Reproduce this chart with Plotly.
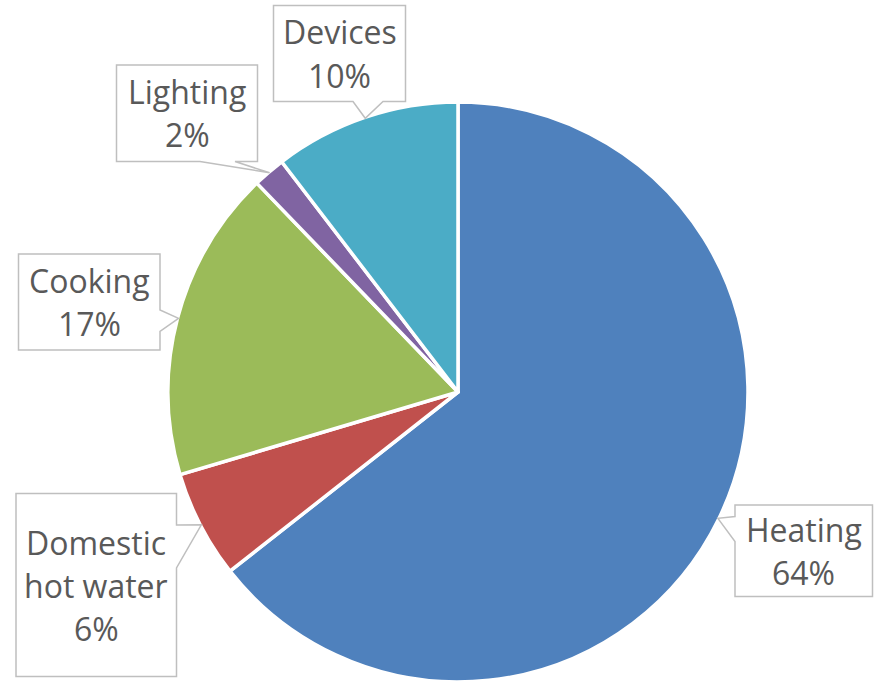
import math
import plotly.graph_objects as go

# ---- data ----
categories = ["Heating", "Domestic hot water", "Cooking", "Lighting", "Devices"]
label_lines = [["Heating"], ["Domestic", "hot water"], ["Cooking"], ["Lighting"], ["Devices"]]
values = [64.4, 6.0, 17.4, 1.8, 10.4]
colors = ["#4F81BD", "#C0504D", "#9BBB59", "#8064A2", "#4BACC6"]

# ---- layout constants (pixels) ----
W, H = 874, 682
CX, CY, R = 458, 392, 290
FONT = "Open Sans"
FS = 32
LINE = 43
TEXT_COLOR = "#595959"
BOX_COLOR = "#BFBFBF"

# callout boxes: (x0, x1, y0, y1, side, base_a, base_b)
boxes = [
    (735.0, 872.5, 505.0, 596.5, "left", 516.5, 541.5),
    (16.0, 176.5, 493.5, 676.5, "right", 525.0, 568.0),
    (18.5, 160.0, 254.0, 350.0, "right", 310.0, 331.5),
    (116.5, 257.5, 65.0, 161.5, "bottom", 200.0, 235.0),
    (273.5, 405.5, 5.5, 101.5, "bottom", 353.0, 383.0),
]


def px(x):
    return x / W


def py(y):
    return 1 - y / H


fig = go.Figure()
fig.add_trace(go.Pie(
    labels=categories,
    values=values,
    sort=False,
    direction="clockwise",
    rotation=0,
    marker=dict(colors=colors, line=dict(color="white", width=3.5)),
    textinfo="none",
    hoverinfo="label+percent",
    showlegend=False,
    domain=dict(x=[px(CX - R), px(CX + R)], y=[py(CY + R), py(CY - R)]),
))

total = sum(values)
shapes = []
annotations = []
cum = 0.0
for i, v in enumerate(values):
    mid = (cum + v / 2) / total * 2 * math.pi
    cum += v
    tx = CX + (R - 1) * math.sin(mid)
    ty = CY - (R - 1) * math.cos(mid)
    x0, x1, y0, y1, side, a, b = boxes[i]
    if side == "left":
        pts = [(x0, y0), (x1, y0), (x1, y1), (x0, y1), (x0, b), (tx, ty), (x0, a)]
    elif side == "right":
        pts = [(x0, y0), (x1, y0), (x1, a), (tx, ty), (x1, b), (x1, y1), (x0, y1)]
    else:  # bottom
        pts = [(x0, y0), (x1, y0), (x1, y1), (b, y1), (tx, ty), (a, y1), (x0, y1)]
    path = "M " + " L ".join(f"{px(x):.5f},{py(y):.5f}" for x, y in pts) + " Z"
    shapes.append(dict(type="path", xref="paper", yref="paper", path=path,
                       line=dict(color=BOX_COLOR, width=1.5), fillcolor="white", layer="above"))
    pct = f"{round(v / total * 100)}%"
    lines = label_lines[i] + [pct]
    cxb = (x0 + x1) / 2
    cyb = (y0 + y1) / 2
    n = len(lines)
    for j, t in enumerate(lines):
        ly = cyb + (j - (n - 1) / 2) * LINE
        annotations.append(dict(
            x=px(cxb), y=py(ly), xref="paper", yref="paper",
            text=t, showarrow=False, xanchor="center", yanchor="middle",
            font=dict(family=FONT, size=FS, color=TEXT_COLOR),
        ))

fig.update_layout(
    width=W, height=H,
    margin=dict(l=0, r=0, t=0, b=0),
    paper_bgcolor="white",
    plot_bgcolor="white",
    shapes=shapes,
    annotations=annotations,
)

fig.write_html(
    "out.html",
    config={"displayModeBar": False},
    post_script="document.body.style.margin='0';document.body.style.overflow='hidden';",
)
